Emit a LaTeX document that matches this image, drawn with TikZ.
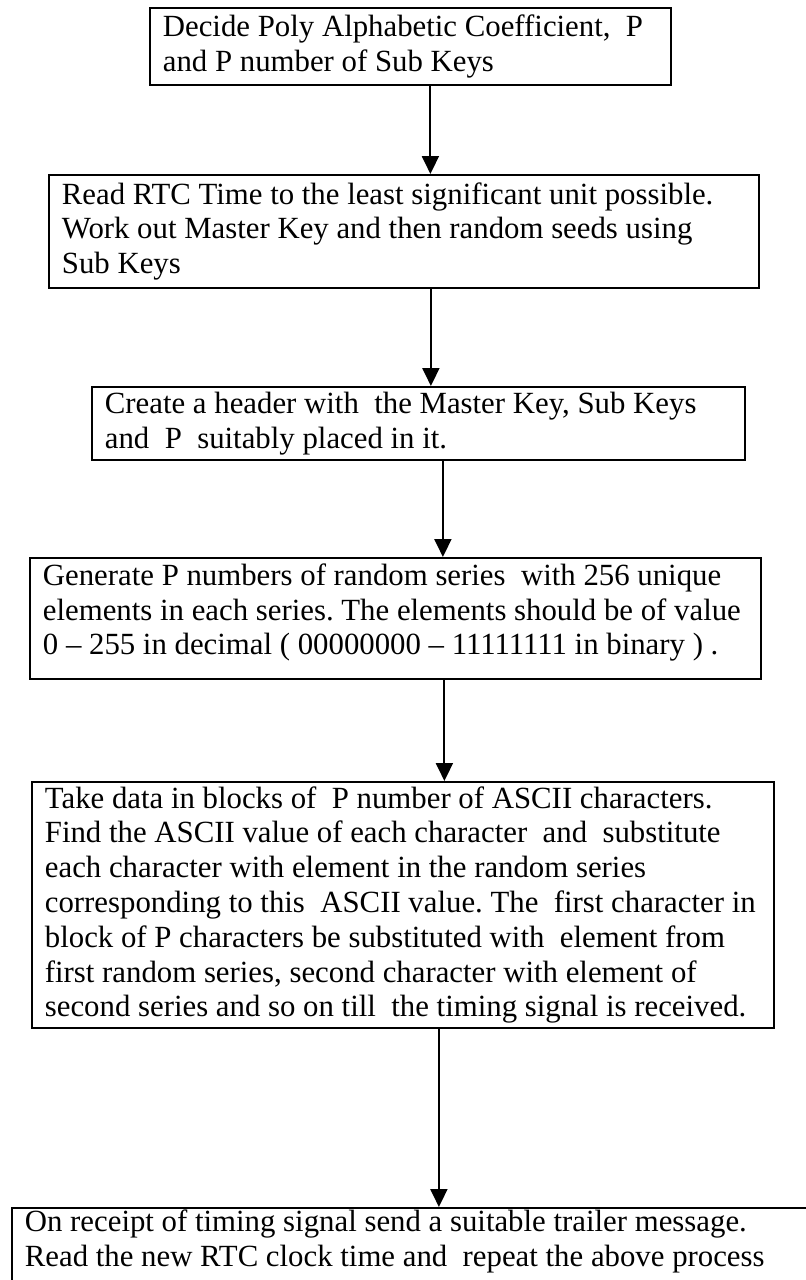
\documentclass[tikz,border=0pt]{standalone}
\usepackage{fontspec}
\setmainfont{Liberation Serif}
\usetikzlibrary{arrows.meta}
\frenchspacing

\begin{document}
\begin{tikzpicture}[x=1pt, y=1pt,
  >={Triangle[length=18pt, width=17pt]},
  stepbox/.style={draw, line width=1.8pt, anchor=north west, align=flush left,
    font=\fontsize{30.8}{34.8}\selectfont, inner xsep=13pt, inner ysep=2pt},
  arr/.style={->, line width=2pt},
]

% Page
\path[use as bounding box, clip] (0,0) rectangle (806,-1280);

% === Flow boxes ===
\node[stepbox, text width=495pt, minimum height=77pt] (coef) at (149,-7)
  {Decide Poly Alphabetic Coefficient,\ \ P\\
   and P number of Sub Keys};

\node[stepbox, text width=684pt, minimum height=113pt] (rtc) at (48,-174)
  {Read RTC Time to the least significant unit possible.\\
   Work out Master Key and then random seeds using\\
   Sub Keys};

\node[stepbox, text width=627pt, minimum height=73pt] (header) at (91,-386)
  {Create a header with\ \ the Master Key, Sub Keys\\
   and\ \ P\ \ suitably placed in it.};

\node[stepbox, text width=705pt, minimum height=121pt, text depth=88pt] (series) at (29,-557)
  {Generate P numbers of random series\ \ with 256 unique\\
   elements in each series. The elements should be of value\\
   0 – 255 in decimal ( 00000000 – 11111111 in binary ) .};

\node[stepbox, text width=716pt, minimum height=246pt] (subst) at (31,-781)
  {Take data in blocks of\ \ P number of ASCII characters.\\
   Find the ASCII value of each character\ \ and\ \ substitute\\
   each character with element in the random series\\
   corresponding to this\ \ ASCII value. The\ \ first character in\\
   block of P characters be substituted with\ \ element from\\
   first random series, second character with element of\\
   second series and so on till\ \ the timing signal is received.};

\node[stepbox, text width=802pt, text depth=130pt] (trailer) at (11,-1207)
  {On receipt of timing signal send a suitable trailer message.\\
   Read the new RTC clock time and\ \ repeat the above process};

% === Connectors ===
\draw[arr] ([xshift=20pt]coef.south) coordinate (a1) -- (a1 |- rtc.north);
\draw[arr] ([xshift=27pt]rtc.south) coordinate (a2) -- (a2 |- header.north);
\draw[arr] ([xshift=24.5pt]header.south) coordinate (a3) -- (a3 |- series.north);
\draw[arr] ([xshift=49pt]series.south) coordinate (a4) -- (a4 |- subst.north);
\draw[arr] ([xshift=36pt]subst.south) coordinate (a5) -- (a5 |- trailer.north);

\end{tikzpicture}
\end{document}
